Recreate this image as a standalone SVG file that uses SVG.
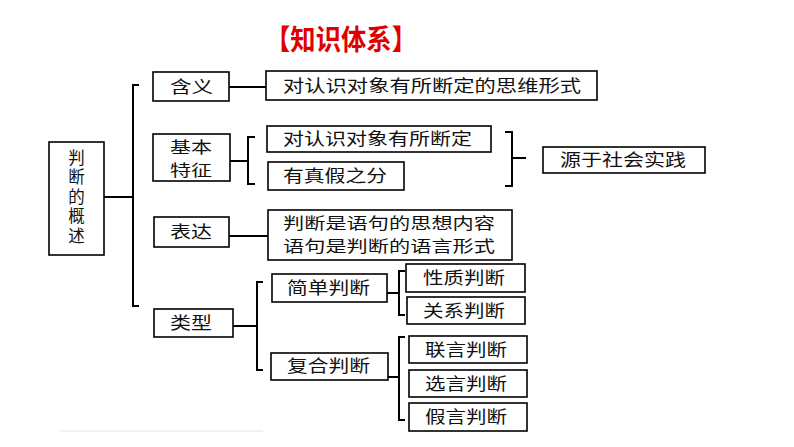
<svg xmlns="http://www.w3.org/2000/svg" width="794" height="447" viewBox="0 0 794 447">
<style>
.b{fill:#fff;stroke:#000;stroke-width:1.6}
.t{font-family:"Noto Sans CJK SC","Noto Sans",sans-serif;font-size:16.5px;fill:#111}
.s{font-size:15.5px}
.c{fill:none;stroke:#000;stroke-width:2}
</style>
<rect width="794" height="447" fill="#fff"/>
<text x="265" y="50" font-family="'Noto Sans CJK SC',sans-serif" font-weight="bold" font-size="28" fill="#e00000" textLength="152" lengthAdjust="spacingAndGlyphs">【知识体系】</text>
<line x1="60" y1="431" x2="263" y2="431" stroke="#e4f0f0" stroke-width="1.5"/>
<g id="connectors">
<path class="c" d="M104 197H133M139 85H133V306H139"/>
<path class="c" d="M229 87H266"/>
<path class="c" d="M230 161H248M255 137H248V184H255"/>
<path class="c" d="M505 132H512V186H505M512 158H526"/>
<path class="c" d="M229 236H268"/>
<path class="c" d="M233 326H257M263 282H257V370H263"/>
<path class="c" d="M387 293H399M405 271H399V315H405"/>
<path class="c" d="M388 377H399M405 337H399V420H405"/>
</g>
<g id="n-root"><rect class="b" x="49" y="142" width="55" height="113"/>
<text class="t" x="76.5" y="149" font-size="17" writing-mode="vertical-rl" style="letter-spacing:3px">判断的概述</text></g>
<g id="n-hanyi"><rect class="b" x="153" y="72" width="76" height="29"/><text class="t" x="170" y="93" textLength="43" lengthAdjust="spacingAndGlyphs">含义</text></g>
<g id="n-hanyi-d"><rect class="b" x="266" y="71" width="331" height="29"/><text class="t" x="283" y="92" textLength="298" lengthAdjust="spacingAndGlyphs">对认识对象有所断定的思维形式</text></g>
<g id="n-jbtz"><rect class="b" x="153" y="134" width="77" height="47"/><text class="t s" x="170" y="153" textLength="42" lengthAdjust="spacingAndGlyphs">基本</text><text class="t s" x="170" y="176" textLength="42" lengthAdjust="spacingAndGlyphs">特征</text></g>
<g id="n-tz1"><rect class="b" x="267" y="126" width="224" height="26"/><text class="t" x="283" y="145" textLength="189" lengthAdjust="spacingAndGlyphs">对认识对象有所断定</text></g>
<g id="n-tz2"><rect class="b" x="268" y="162" width="136" height="28"/><text class="t" x="283" y="182" textLength="104" lengthAdjust="spacingAndGlyphs">有真假之分</text></g>
<g id="n-yuan"><rect class="b" x="543" y="147" width="162" height="26"/><text class="t" x="560" y="166" textLength="126" lengthAdjust="spacingAndGlyphs">源于社会实践</text></g>
<g id="n-biaoda"><rect class="b" x="154" y="217" width="75" height="30"/><text class="t" x="170" y="238" textLength="42" lengthAdjust="spacingAndGlyphs">表达</text></g>
<g id="n-biaoda-d"><rect class="b" x="268" y="210" width="244" height="50"/><text class="t s" x="283" y="229" textLength="212" lengthAdjust="spacingAndGlyphs">判断是语句的思想内容</text><text class="t s" x="283" y="252" textLength="212" lengthAdjust="spacingAndGlyphs">语句是判断的语言形式</text></g>
<g id="n-leixing"><rect class="b" x="154" y="309" width="79" height="28"/><text class="t" x="170" y="329" textLength="42" lengthAdjust="spacingAndGlyphs">类型</text></g>
<g id="n-jd"><rect class="b" x="272" y="274" width="115" height="28"/><text class="t" x="287" y="294" textLength="83" lengthAdjust="spacingAndGlyphs">简单判断</text></g>
<g id="n-fh"><rect class="b" x="271" y="353" width="117" height="27"/><text class="t" x="287" y="372" textLength="83" lengthAdjust="spacingAndGlyphs">复合判断</text></g>
<g id="n-xz"><rect class="b" x="406" y="264" width="119" height="28"/><text class="t" x="423" y="284" textLength="82" lengthAdjust="spacingAndGlyphs">性质判断</text></g>
<g id="n-gx"><rect class="b" x="407" y="297" width="118" height="27"/><text class="t" x="423" y="317" textLength="82" lengthAdjust="spacingAndGlyphs">关系判断</text></g>
<g id="n-ly"><rect class="b" x="409" y="336" width="118" height="27"/><text class="t" x="425" y="356" textLength="82" lengthAdjust="spacingAndGlyphs">联言判断</text></g>
<g id="n-xy"><rect class="b" x="409" y="370" width="118" height="27"/><text class="t" x="425" y="390" textLength="82" lengthAdjust="spacingAndGlyphs">选言判断</text></g>
<g id="n-jy"><rect class="b" x="409" y="403" width="118" height="28"/><text class="t" x="425" y="423" textLength="82" lengthAdjust="spacingAndGlyphs">假言判断</text></g>
</svg>
